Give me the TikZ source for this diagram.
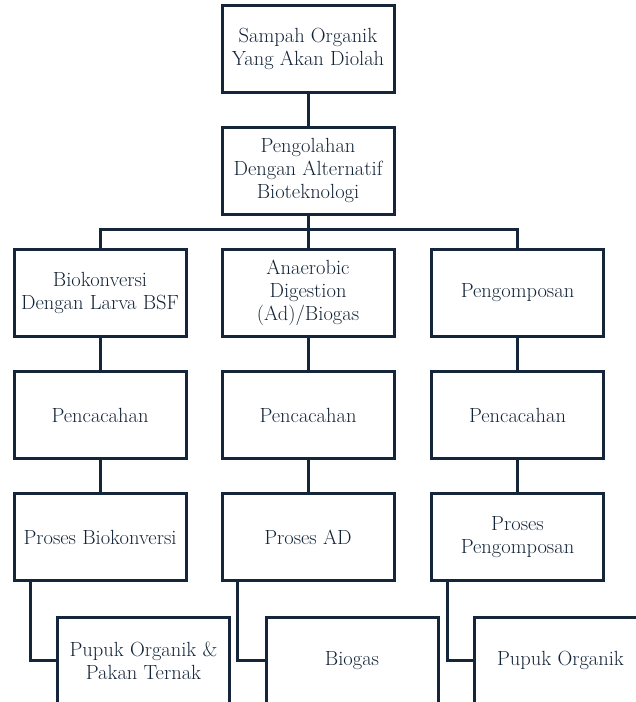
\documentclass[tikz,border=0pt]{standalone}
\definecolor{lineC}{RGB}{22,38,58}
\definecolor{textC}{RGB}{20,36,56}
\begin{document}
\begin{tikzpicture}[x=1pt,y=-1pt,
  box/.style={draw=lineC,line width=3pt,minimum width=172pt,minimum height=87pt,
    inner sep=0pt,align=center,text=textC,font=\fontsize{20.5}{23}\selectfont},
  conn/.style={draw=lineC,line width=3pt}]
\useasboundingbox (0,0) rectangle (636,702);
\clip (0,0) rectangle (636,702);
\node[box] (top) at (308,48.5) {Sampah Organik\\Yang Akan Diolah};
\node[box] (alt) at (308,170.5) {Pengolahan\\Dengan Alternatif\\Bioteknologi};
\node[box] (l1) at (100,292.5) {Biokonversi\\Dengan Larva BSF};
\node[box] (m1) at (308,292.5) {Anaerobic\\Digestion\\(Ad)/Biogas};
\node[box] (r1) at (517.5,292.5) {Pengomposan};
\node[box] (l2) at (100,415) {Pencacahan};
\node[box] (m2) at (308,415) {Pencacahan};
\node[box] (r2) at (517.5,415) {Pencacahan};
\node[box] (l3) at (100,537) {Proses Biokonversi};
\node[box] (m3) at (308,537) {Proses AD};
\node[box] (r3) at (517.5,537) {Proses\\Pengomposan};
\node[box] (l4) at (143.5,660.5) {Pupuk Organik \&\\Pakan Ternak};
\node[box] (m4) at (352,660.5) {Biogas};
\node[box] (r4) at (560.5,660.5) {Pupuk Organik};
\draw[conn] (top) -- (alt);
\draw[conn] (alt) -- (m1);
\draw[conn] (l1.north) -- ++(0,-18) -| (r1.north);
\draw[conn] (l1) -- (l2);
\draw[conn] (m1) -- (m2);
\draw[conn] (r1) -- (r2);
\draw[conn] (l2) -- (l3);
\draw[conn] (m2) -- (m3);
\draw[conn] (r2) -- (r3);
\draw[conn] ([xshift=18pt]l3.south west) |- (l4.west);
\draw[conn] ([xshift=17pt]m3.south west) |- (m4.west);
\draw[conn] ([xshift=17pt]r3.south west) |- (r4.west);
\end{tikzpicture}
\end{document}
